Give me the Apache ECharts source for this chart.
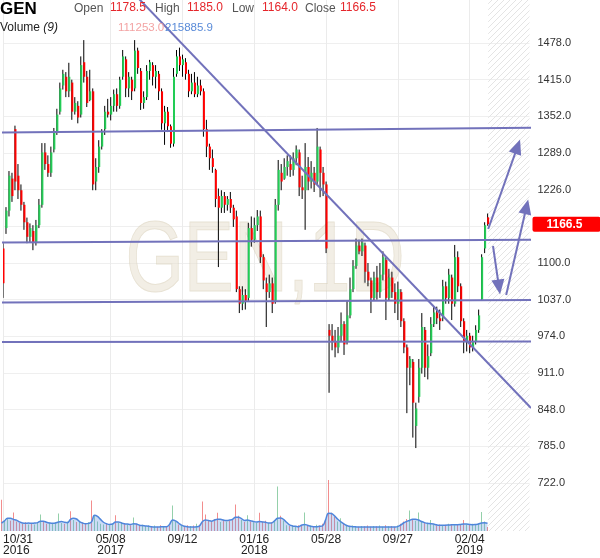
<!DOCTYPE html>
<html><head><meta charset="utf-8">
<script src="https://cdn.jsdelivr.net/npm/echarts@6/dist/echarts.min.js"></script>
<style>html,body{margin:0;padding:0;background:#fff}#c{width:600px;height:558px}</style>
</head><body><div id="c"></div>
<script>
// ---------- data ----------
const ticker = 'GEN';
const watermarkText = 'GEN,1D';
// candles (each ~3.6 trading days), Oct 2016 .. Feb 2019
const open = [1125,1160,1190,1245,1330,1250,1225,1200,1170,1145, 1155,1135,1165,1200,1290,1270,1255,1295,1325,1360,
 1405,1420,1395,1410,1360,1370,1355,1445,1420,1380, 1395,1240,1265,1300,1330,1360,1355,1370,1390,1370,
 1420,1450,1400,1415,1400,1465,1430,1375,1385,1430, 1440,1420,1425,1395,1340,1360,1335,1305,1425,1455,
 1440,1445,1425,1395,1410,1390,1405,1395,1330,1300, 1280,1260,1215,1195,1215,1200,1210,1195,1180,1055,
 1030,1045,1040,1160,1140,1165,1180,1110,1065,1050, 1065,1035,1200,1255,1245,1265,1270,1260,1280,1290,
 1230,1225,1265,1240,1255,1240,1295,1255,1235,985, 975,965,955,975,995,965,1010,1055,1095,1130,
 1120,1130,1085,1070,1040,1075,1050,1080,1105,1040, 1075,1050,1030,1050,1000,955,920,930,820,870,
 920,985,920,945,995,1015,1005,1005,1060,1040, 1075,1030,1110,1060,1000,965,975,955,965,985,
 1037,1125,1178.5];
const close = [1065,1190,1250,1215,1240,1225,1200,1170,1145,1160, 1135,1165,1200,1290,1270,1255,1290,1325,1355,1400,
 1425,1395,1420,1360,1375,1350,1440,1420,1375,1395, 1235,1265,1300,1325,1360,1355,1370,1390,1370,1415,
 1455,1400,1420,1395,1465,1435,1375,1385,1430,1445, 1420,1430,1395,1340,1360,1335,1305,1420,1455,1440,
 1450,1425,1395,1410,1390,1405,1395,1330,1300,1280, 1265,1210,1195,1215,1200,1210,1195,1175,1055,1030,
 1045,1035,1160,1140,1165,1180,1110,1070,1050,1065, 1030,1200,1260,1240,1265,1275,1260,1280,1295,1230,
 1225,1265,1240,1255,1235,1300,1255,1235,1125,975, 965,955,975,995,960,1010,1055,1095,1130,1120,
 1135,1085,1070,1040,1075,1050,1080,1110,1040,1075, 1050,1030,1055,1000,955,920,935,860,850,920,
 990,920,940,995,1015,1005,1000,1060,1040,1080, 1030,1110,1060,1000,965,975,955,965,985,1010,
 1110,1165,1166.5];
const low = [1040,1150,1180,1205,1225,1210,1190,1157,1134,1136, 1122,1130,1160,1195,1260,1248,1248,1290,1320,1355,
 1398,1385,1385,1346,1355,1340,1350,1410,1368,1378, 1225,1225,1255,1295,1320,1350,1345,1360,1360,1365,
 1415,1385,1385,1380,1395,1425,1363,1365,1380,1415, 1405,1400,1380,1329,1303,1325,1298,1300,1420,1430,
 1420,1415,1385,1390,1385,1385,1388,1317,1282,1260, 1255,1196,1093,1186,1186,1190,1186,1162,1050,1014,
 1019,1020,1035,1128,1135,1155,1100,1055,990,1040, 1014,1030,1190,1225,1243,1250,1248,1250,1268,1215,
 1210,1157,1225,1228,1222,1235,1213,1215,1117,877, 950,938,945,965,942,960,1005,1050,1090,1115,
 1112,1066,1060,1014,1035,1037,1040,1070,1002,1035, 1040,1014,1002,990,945,842,890,800,782,860,
 910,904,900,940,990,995,985,1000,1030,1030, 1002,1025,1050,990,945,948,945,948,960,980,
 1035,1117,1164];
const high = [1134,1196,1258,1255,1336,1270,1235,1205,1178,1168, 1165,1174,1210,1306,1306,1285,1300,1332,1365,1410,
 1432,1428,1444,1415,1385,1378,1455,1483,1430,1432, 1400,1280,1311,1330,1370,1382,1385,1398,1400,1420,
 1466,1455,1428,1420,1483,1470,1435,1395,1440,1449, 1445,1440,1430,1400,1370,1368,1338,1435,1466,1470,
 1458,1452,1432,1425,1428,1420,1415,1400,1346,1305, 1295,1262,1228,1225,1222,1215,1222,1200,1190,1060,
 1060,1055,1169,1180,1178,1191,1190,1115,1075,1080, 1075,1210,1277,1270,1280,1285,1285,1290,1302,1295,
 1250,1306,1282,1275,1265,1332,1300,1265,1240,995, 995,985,990,1015,1000,1035,1075,1105,1142,1140,
 1142,1135,1100,1075,1085,1095,1100,1120,1110,1090, 1085,1065,1068,1055,1005,960,940,935,860,935,
 1014,990,960,1007,1025,1025,1020,1071,1068,1090, 1080,1131,1120,1065,1005,985,980,975,993,1020,
 1115,1170,1185];
// volume, thousands
const volume = [860,300,350,280,510,260,220,200,240,180, 200,180,220,450,260,200,230,190,240,480,
 220,200,260,540,300,250,280,230,200,240, 840,420,260,200,180,220,160,200,430,220,
 250,200,180,160,370,200,150,170,140,160, 130,150,120,160,140,130,150,700,260,180,
 150,130,160,140,150,200,170,810,450,300, 260,330,500,250,300,260,280,300,730,420,
 300,250,430,260,240,220,500,260,280,220, 240,300,1220,420,280,160,140,150,130,160,
 140,510,160,150,130,170,150,200,300,1400, 500,400,260,350,220,170,140,150,130,120,
 140,130,150,120,140,130,150,120,160,130, 140,120,150,200,260,330,560,300,280,510,
 260,220,200,300,180,160,180,150,170,200, 180,160,170,190,300,180,170,200,190,210,
 520,260,111.253];
// volume moving average (9), thousands
const volumeMA = [216,280,350,350,320,300,250,220,210,220, 210,220,230,270,270,240,220,210,220,250,
 260,240,230,320,350,330,260,220,200,210, 250,430,400,320,240,200,180,190,250,250,
 220,200,190,180,200,190,160,150,140,130, 115,110,110,115,120,115,180,300,280,220,
 160,130,115,110,110,115,140,260,300,290, 270,300,320,320,300,290,300,320,380,380,
 340,290,300,280,260,250,260,250,240,220, 220,280,350,360,320,240,170,140,130,120,
 160,180,160,130,120,120,130,140,300,490, 480,420,330,260,200,150,130,120,115,110,
 110,110,108,108,110,112,110,110,108,110, 110,112,120,160,220,260,290,320,320,300,
 260,230,210,200,190,170,160,160,160,165, 170,175,175,180,190,190,180,175,180,190,
 220,225,215.8859];
const slotCount = 177; // candle slots incl. empty future area
const xTickLabels = [
  {index:0, label:'10/31\n2016'}, {index:36, label:'05/08\n2017'}, {index:60, label:'09/12'},
  {index:84, label:'01/16\n2018'}, {index:108, label:'05/28'}, {index:132, label:'09/27'},
  {index:156, label:'02/04\n2019'}];
const yTicks = [722,785,848,911,974,1037,1100,1163,1226,1289,1352,1415,1478];
const yRange = [639.5, 1551.9];
const volRange = [0, 1950];
// drawn annotations [slot, price]
const levelLines = [
  [[-0.5,1324.3],[176.5,1332.4]],
  [[-0.5,1135.2],[176.5,1140.1]],
  [[-0.5,1032.1],[176.5,1036.6]],
  [[-0.5,964.3],[176.5,965.1]]];
const trendLine = [[44.5,1559],[176.5,850.9]];
const arrows = [
  [[162.2,1158.4],[172.0,1300]],
  [[168.2,1045.1],[175.0,1196.6]],
  [[163.8,1129.2],[165.8,1058.6]]];
const futureArea = [162.2, 176.5];

// ---------- chart ----------
const N = open.length;
const cats = Array.from({length: slotCount}, () => '');
xTickLabels.forEach(t => { cats[t.index] = t.label; });
const candleData = open.map((o, i) => [i, o, close[i], low[i], high[i]]);
const volData = volume.map((v, i) => ({value: v, itemStyle: {color: close[i] >= open[i] ? 'rgba(60,170,100,0.55)' : 'rgba(235,80,80,0.65)'}}));

// hatch pattern
const pc = document.createElement('canvas'); pc.width = 6; pc.height = 6;
const g = pc.getContext('2d');
g.strokeStyle = '#e4e4e4'; g.lineWidth = 1;
g.beginPath(); g.moveTo(0,6); g.lineTo(6,0); g.moveTo(-1,1); g.lineTo(1,-1); g.moveTo(5,7); g.lineTo(7,5); g.stroke();

const FONT = 'Liberation Sans, Arial, sans-serif';
const lineColor = '#7272bb';
const fmt1 = v => Number(v).toFixed(1);
const last = N - 1;

const header = [
  {t: ticker, x: 0, y: 9, c: '#000', s: 17, w: 'bold'},
  {t: 'Open', x: 74, y: 9, c: '#555', s: 12},
  {t: fmt1(open[last]), x: 110, y: 8, c: '#e5262b', s: 12},
  {t: 'High', x: 155, y: 9, c: '#555', s: 12},
  {t: fmt1(high[last]), x: 187, y: 8, c: '#e5262b', s: 12},
  {t: 'Low', x: 232, y: 9, c: '#555', s: 12},
  {t: fmt1(low[last]), x: 262, y: 8, c: '#e5262b', s: 12},
  {t: 'Close', x: 305, y: 9, c: '#555', s: 12},
  {t: fmt1(close[last]), x: 340, y: 8, c: '#e5262b', s: 12},
  {t: fmt1(volume[last] * 1000), x: 118, y: 28, c: '#f3a3a3', s: 11.5},
  {t: fmt1(volumeMA[last] * 1000), x: 165, y: 28, c: '#5a8bd8', s: 11.5}
];
const graphics = header.map(h => ({type: 'text', x: h.x, y: h.y, z: 20, silent: true,
  style: {text: h.t, fill: h.c, font: (h.w || 'normal') + ' ' + h.s + 'px ' + FONT, textVerticalAlign: 'middle'}}));
graphics.push({type: 'text', x: 0, y: 28, z: 20, silent: true,
  style: {text: '{a|Volume }{b|(9)}', fill: '#222', textVerticalAlign: 'middle',
    rich: {a: {fontSize: 12, fontFamily: FONT, color: '#222'}, b: {fontSize: 12, fontFamily: FONT, fontStyle: 'italic', color: '#222'}}}});
graphics.push({type: 'text', x: 265, y: 263, scaleX: 0.75, z: 1, silent: true,
  style: {text: watermarkText, font: 'normal 100px ' + FONT, fill: 'rgba(232,224,208,0.55)', stroke: 'rgba(205,192,165,0.45)', lineWidth: 1,
    textAlign: 'center', textVerticalAlign: 'middle'}});

const chart = echarts.init(document.getElementById('c'), null, {renderer: 'canvas'});
chart.setOption({
  animation: false,
  backgroundColor: '#fff',
  grid: [
    {left: 1.5, width: 528, top: 0, height: 531},
    {left: 1.5, width: 528, top: 460, height: 71}
  ],
  xAxis: [
    {type: 'category', gridIndex: 0, data: cats, boundaryGap: false,
     axisLine: {show: false}, axisTick: {show: false},
     axisLabel: {interval: (i, v) => v !== '', color: '#222', fontSize: 12, lineHeight: 11, margin: 3, fontFamily: FONT, alignMinLabel: 'left'},
     splitLine: {show: true, interval: (i, v) => v !== '', lineStyle: {color: '#ebebeb', width: 1}}},
    {type: 'value', gridIndex: 0, min: 0, max: slotCount - 1, show: false},
    {type: 'category', gridIndex: 1, data: cats, boundaryGap: false, show: false}
  ],
  yAxis: [
    {type: 'value', gridIndex: 0, position: 'right', min: yRange[0], max: yRange[1],
     axisLine: {show: false}, axisTick: {show: false, customValues: yTicks},
     axisLabel: {customValues: yTicks, formatter: v => fmt1(v), color: '#333', fontSize: 11, margin: 8, fontFamily: FONT},
     splitLine: {show: true, lineStyle: {color: '#efefef', width: 1}}},
    {type: 'value', gridIndex: 1, min: volRange[0], max: volRange[1], show: false, splitLine: {show: false}}
  ],
  graphic: graphics,
  series: [
    { // future hatched area
      type: 'line', xAxisIndex: 1, yAxisIndex: 0, data: [], z: 1, silent: true,
      markArea: {silent: true, itemStyle: {color: {image: pc, repeat: 'repeat'}},
        data: [[{xAxis: futureArea[0]}, {xAxis: futureArea[1]}]]}
    },
    {
      type: 'bar', xAxisIndex: 2, yAxisIndex: 1, data: volData, barWidth: 1, z: 2, silent: true
    },
    {
      type: 'line', xAxisIndex: 2, yAxisIndex: 1, data: volumeMA, smooth: 0.4, showSymbol: false, z: 3, silent: true,
      lineStyle: {color: '#4f86dc', width: 1.5}, areaStyle: {color: 'rgba(95,145,225,0.45)'}
    },
    {
      type: 'custom', xAxisIndex: 0, yAxisIndex: 0, data: candleData, z: 4, clip: true,
      encode: {x: 0, y: [1, 2, 3, 4]},
      renderItem: (params, api) => {
        const i = api.value(0), o = api.value(1), c = api.value(2), l = api.value(3), h = api.value(4);
        const pH = api.coord([i, h]), pL = api.coord([i, l]), pO = api.coord([i, o]), pC = api.coord([i, c]);
        const x = pH[0];
        const top = Math.min(pO[1], pC[1]), bot = Math.max(pO[1], pC[1]);
        return {type: 'group', children: [
          {type: 'line', shape: {x1: x, y1: pH[1], x2: x, y2: pL[1]}, style: {stroke: '#000', lineWidth: 1}},
          {type: 'rect', shape: {x: x - 0.5, y: top, width: 2, height: Math.max(1, bot - top)},
           style: {fill: c >= o ? '#22cc55' : '#ff0000'}}
        ]};
      }
    },
    ...levelLines.map(seg => ({type: 'line', xAxisIndex: 1, yAxisIndex: 0, data: seg, showSymbol: false, z: 6, silent: true,
      lineStyle: {color: lineColor, width: 2}})),
    {type: 'line', xAxisIndex: 1, yAxisIndex: 0, data: trendLine, showSymbol: false, z: 6, silent: true,
      lineStyle: {color: lineColor, width: 2}},
    { // arrows
      type: 'line', xAxisIndex: 1, yAxisIndex: 0, data: [], z: 7, silent: true,
      markLine: {silent: true, symbol: ['none', 'triangle'], symbolSize: [13, 15], precision: 1,
        lineStyle: {color: lineColor, width: 2, type: 'solid'}, label: {show: false},
        data: arrows.map(a => [{coord: a[0], itemStyle: {color: lineColor}}, {coord: a[1], itemStyle: {color: lineColor}}])}
    },
    { // last price label on the price axis
      type: 'line', xAxisIndex: 1, yAxisIndex: 0, data: [], z: 8, silent: true, clip: false,
      markLine: {silent: true, symbol: ['none', 'none'], lineStyle: {color: 'rgba(0,0,0,0)', width: 1, type: 'solid'},
        label: {show: true, position: 'end', distance: 3, formatter: fmt1(close[last]), backgroundColor: '#ff0000',
          color: '#ffffff', fontWeight: 'bold', fontSize: 12, fontFamily: FONT, padding: [2, 18, 1, 14], borderRadius: 2, opacity: 1},
        data: [[{coord: [0, close[last]]}, {coord: [slotCount - 1, close[last]]}]]}
    }
  ]
});
</script></body></html>
